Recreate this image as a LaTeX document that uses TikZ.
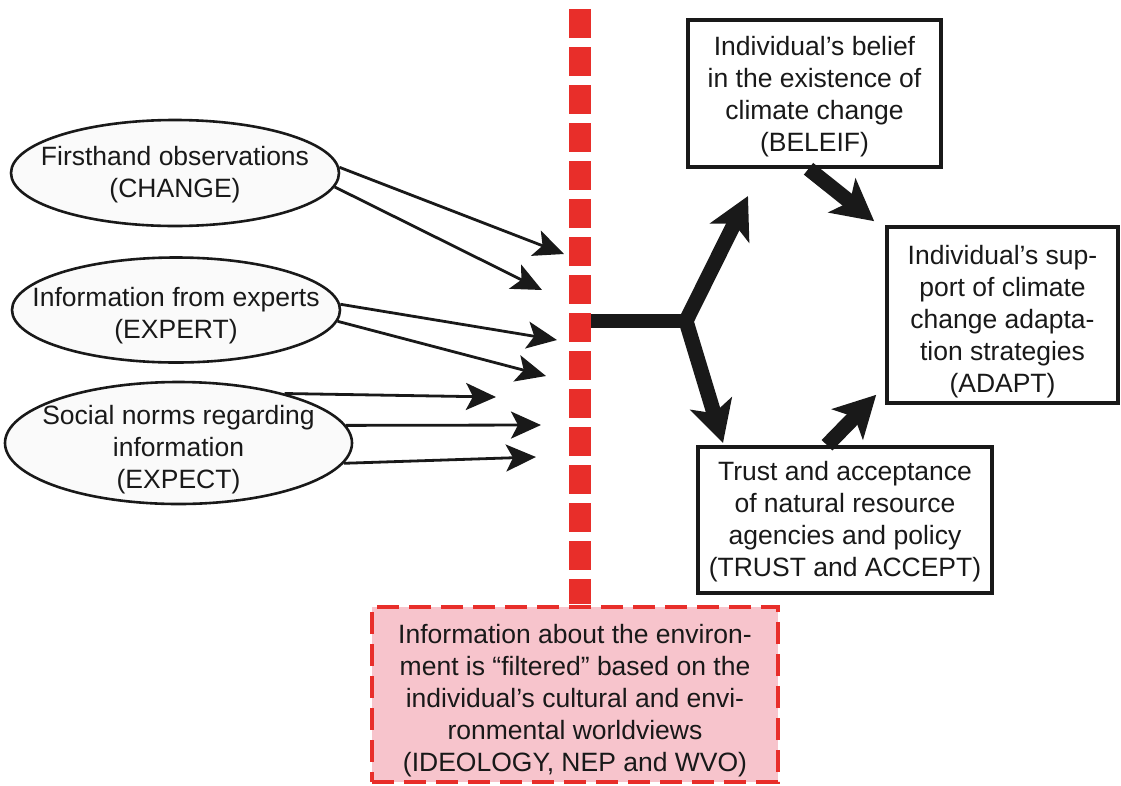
\documentclass[tikz,border=0pt]{standalone}
\usepackage{fontspec}
\setmainfont{Liberation Sans}
\usetikzlibrary{arrows.meta,shapes.geometric,calc}
\definecolor{filterred}{RGB}{232,46,42}
\definecolor{filterpink}{RGB}{247,196,204}
\definecolor{ink}{RGB}{25,25,25}
\definecolor{ovalfill}{RGB}{250,250,250}
\begin{document}
\begin{tikzpicture}[x=1pt,y=-1pt,
  font=\fontsize{26.5}{32}\selectfont,
  oval/.style={ellipse, draw=ink, line width=2.6pt, fill=ovalfill, inner sep=0pt},
  boxtext/.style={align=center, text=ink, inner sep=0pt},
  concept/.style={rectangle, draw=ink, line width=3.6pt, fill=white, inner sep=0pt},
  filterbox/.style={rectangle, draw=filterred, fill=filterpink, line width=3.6pt,
    dash pattern=on 22pt off 10pt, inner sep=0pt},
  filterline/.style={draw=filterred, line width=22pt, dash pattern=on 28.5pt off 9.5pt},
  thinarrow/.style={draw=ink, line width=2.8pt, -{Stealth[length=30pt,width=27pt,inset=7pt]}},
  boldarrow/.style={draw=ink, line width=15pt, -{Stealth[length=41pt,width=43pt,inset=10pt]}},
  boldline/.style={draw=ink, line width=14pt}
]
\useasboundingbox (0,0) rectangle (1121,785);

% sources of information
\node[oval, minimum width=328pt, minimum height=106pt,
  label={[boxtext, yshift=-2pt]center:Firsthand observations\\(CHANGE)}] (e1) at (175,173) {};
\node[oval, minimum width=328pt, minimum height=105pt,
  label={[boxtext, yshift=-6pt]center:Information from experts\\(EXPERT)}] (e2) at (176,310) {};
\node[oval, minimum width=347pt, minimum height=122pt,
  label={[boxtext, yshift=-7pt]center:Social norms regarding\\information\\(EXPECT)}] (e3) at (178.5,443) {};

% the worldview filter
\coordinate (ftop) at (580,9);
\coordinate (fbot) at (580,604);
\draw[filterline] (ftop) -- (fbot);
\node[filterbox, minimum width=406pt, minimum height=175pt,
  label={[boxtext, yshift=-6pt]center:Information about the environ-\\ment is “filtered” based on the\\individual’s cultural and envi-\\ronmental worldviews\\(IDEOLOGY, NEP and WVO)}] (filter) at (575,694.5) {};

% outcomes
\node[concept, minimum width=253pt, minimum height=147pt,
  label={[boxtext, yshift=-3pt]center:Individual’s belief\\in the existence of\\climate change\\(BELEIF)}] (belief) at (814.5,93.5) {};
\node[concept, minimum width=231pt, minimum height=176pt,
  label={[boxtext, yshift=-7pt]center:Individual’s sup-\\port of climate\\change adapta-\\tion strategies\\(ADAPT)}] (adapt) at (1002.5,315) {};
\node[concept, minimum width=294pt, minimum height=146pt,
  label={[boxtext, yshift=-2pt]center:Trust and acceptance\\of natural resource\\agencies and policy\\(TRUST and ACCEPT)}] (trust) at (845,520) {};

% arrow tips that stop at the filter
\coordinate (t1) at (564,254);
\coordinate (t2) at (542,290);
\coordinate (t3) at (557,340);
\coordinate (t4) at (546,376);
\coordinate (t5) at (496,397);
\coordinate (t6) at (541,425);
\coordinate (t7) at (536,457);

\draw[thinarrow] (e1.2) -- (t1);
\draw[thinarrow] (e1.-5.5) -- (t2);
\draw[thinarrow] (e2.2.3) -- (t3);
\draw[thinarrow] (e2.-4.5) -- (t4);
\draw[thinarrow] (e3.25) -- (t5);
\draw[thinarrow] (e3.6.6) -- (t6);
\draw[thinarrow] (e3.-7.5) -- (t7);

% filtered information splits towards belief and trust
\coordinate (fout) at (591,321);
\coordinate (split) at (686,321);
\coordinate (tup) at (748,196);
\coordinate (tdown) at (723,443);
\draw[boldline] (fout) -- (split);
\draw[boldarrow] (split) -- (tup);
\draw[boldarrow] (split) -- (tdown);

% belief and trust feed support for adaptation
\draw[boldarrow] ($(belief.south)+(-6,0)$) -- ($(adapt.north west)+(-11,-4)$);
\draw[boldarrow] ($(trust.north)+(-18,0)$) -- ($(adapt.south west)+(-9,-10)$);
\end{tikzpicture}
\end{document}
